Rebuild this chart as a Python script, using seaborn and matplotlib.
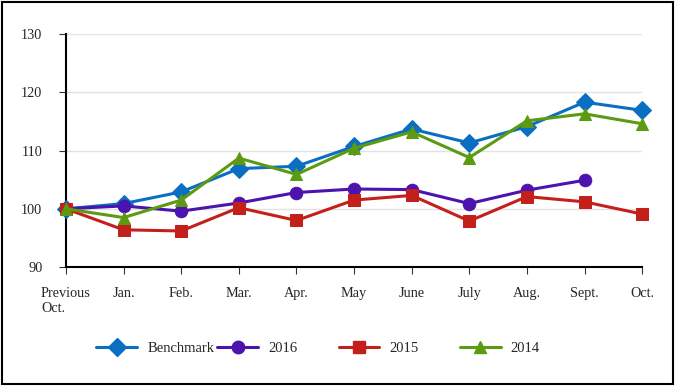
import numpy as np
import pandas as pd
import matplotlib
matplotlib.use("Agg")
import matplotlib.pyplot as plt
from matplotlib.lines import Line2D
import seaborn as sns

# Data
MONTHS = ['Previous\nOct.', 'Jan.', 'Feb.', 'Mar.', 'Apr.', 'May', 'June',
          'July', 'Aug.', 'Sept.', 'Oct.']
BENCHMARK = [100.0, 100.9, 102.9, 106.9, 107.3, 110.7, 113.7, 111.3, 114.1, 118.3, 116.9]
Y2016 = [100.0, 100.5, 99.6, 101.0, 102.8, 103.4, 103.3, 100.9, 103.2, 104.9]
Y2015 = [100.0, 96.4, 96.2, 100.2, 98.0, 101.5, 102.3, 97.9, 102.1, 101.2, 99.1]
Y2014 = [100.0, 98.5, 101.5, 108.7, 105.9, 110.4, 113.2, 108.8, 115.1, 116.3, 114.6]

SERIES = [
    ('Benchmark', BENCHMARK, '#0A6FC2', 'D', 9),
    ('2016', Y2016, '#4C13AE', 'o', 9),
    ('2015', Y2015, '#C4201B', 's', 8),
    ('2014', Y2014, '#5C9A12', '^', 8),
]
LEGEND_X = [0.142, 0.321, 0.500, 0.679]  # left edge of each legend entry (figure coords)

sns.set_style("white")
plt.rcParams['font.family'] = ['Liberation Serif', 'DejaVu Serif']

fig = plt.figure(figsize=(6.77, 3.86), dpi=100)
ax = fig.add_axes([0.0975, 0.308, 0.851, 0.604])

for name, vals, color, marker, ms in SERIES:
    df = pd.DataFrame({'x': np.arange(len(vals)), 'y': vals})
    sns.lineplot(data=df, x='x', y='y', ax=ax, color=color, marker=marker,
                 markersize=ms, markeredgecolor=color, linewidth=2.2,
                 legend=False, zorder=3, clip_on=False)

ax.set_xlim(0, len(MONTHS) - 1)
ax.set_ylim(90, 130)
ax.set_yticks([90, 100, 110, 120, 130])
ax.set_xticks(np.arange(len(MONTHS)))
ax.set_xticklabels(MONTHS, fontsize=10.3, ha='center', multialignment='left')
ax.tick_params(axis='y', labelsize=10.3, length=5, width=0.8, color='#333333',
               pad=12, direction='out', left=True)
ax.tick_params(axis='x', length=5, width=0.8, color='#333333', pad=9,
               direction='out', bottom=True)
ax.set_xlabel('')
ax.set_ylabel('')
ax.grid(axis='y', color='#E2E2E2', linewidth=1)
ax.set_axisbelow(True)
for s in ['top', 'right']:
    ax.spines[s].set_visible(False)
ax.spines['left'].set_color('black')
ax.spines['left'].set_linewidth(1.5)
ax.spines['bottom'].set_color('black')
ax.spines['bottom'].set_linewidth(1.5)

# one legend per entry so the entries sit at even spacing
for (name, vals, color, marker, ms), lx in zip(SERIES, LEGEND_X):
    h = Line2D([], [], color=color, marker=marker, markersize=ms,
               markeredgecolor=color, linewidth=2.2)
    fig.legend([h], [name], loc='center left', bbox_to_anchor=(lx, 0.098),
               frameon=False, fontsize=10.5, handlelength=2.8,
               handletextpad=0.7, borderpad=0, borderaxespad=0)

# figure border
fig.patches.append(plt.Rectangle((0.003, 0.005), 0.991, 0.99, transform=fig.transFigure,
                                 fill=False, edgecolor='black', linewidth=1.5))

fig.savefig('out.png', dpi=100)
